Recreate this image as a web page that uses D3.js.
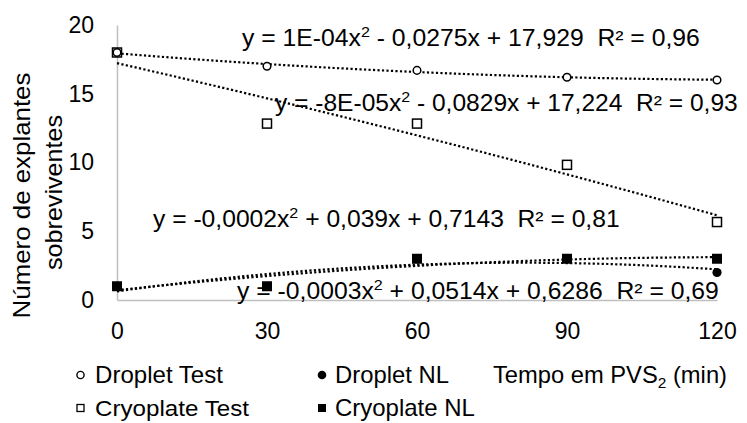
<!DOCTYPE html>
<html>
<head>
<meta charset="utf-8">
<script src="https://cdn.jsdelivr.net/npm/d3@7"></script>
<style>
  html, body { margin: 0; padding: 0; background: #fff; }
  svg { display: block; font-family: "Liberation Sans", Arial, sans-serif; }
  text { white-space: pre; fill: #000; }
</style>
</head>
<body>
<svg id="chart" width="747" height="423"></svg>
<script>
// Tempo em PVS2 (min) on x, surviving explants on y
const times = [0, 30, 60, 90, 120];
const dropletTest = [18, 17, 16.7, 16.2, 16];
const dropletNL = [1, 1, 3, 3, 2];
const cryoplateTest = [18, 12.83, 12.83, 9.83, 5.67];
const cryoplateNL = [1, 1, 3, 3, 3];

const xTicks = [0, 30, 60, 90, 120];
const yTicks = [0, 5, 10, 15, 20];

// Trendline equation labels: [before superscript, superscript, after]
const eqDropletTest = ["y = 1E-04x", "2", " - 0,0275x + 17,929  R² = 0,96"];
const eqCryoplateTest = ["y = -8E-05x", "2", " - 0,0829x + 17,224  R² = 0,93"];
const eqCryoplateNL = ["y = -0,0002x", "2", " + 0,039x + 0,7143  R² = 0,81"];
const eqDropletNL = ["y = -0,0003x", "2", " + 0,0514x + 0,6286  R² = 0,69"];

const legendNames = ["Droplet Test", "Droplet NL", "Cryoplate Test", "Cryoplate NL"];
const yTitleLines = ["Número de explantes", "sobreviventes"];
const xTitle = ["Tempo em PVS", "2", " (min)"];

const svg = d3.select("#chart");
const FS = 23;

const x = d3.scaleLinear().domain([0, 120]).range([117, 717]);
const y = d3.scaleLinear().domain([0, 20]).range([300, 25]);

// least-squares quadratic fit y = a0 + a1 x + a2 x^2
function quadFit(xs, ys) {
  const S = k => d3.sum(xs, v => Math.pow(v, k));
  const T = k => d3.sum(xs, (v, i) => Math.pow(v, k) * ys[i]);
  const A = [[S(0), S(1), S(2), T(0)], [S(1), S(2), S(3), T(1)], [S(2), S(3), S(4), T(2)]];
  for (let c = 0; c < 3; c++) {
    for (let r = c + 1; r < 3; r++) {
      const f = A[r][c] / A[c][c];
      for (let k = c; k < 4; k++) A[r][k] -= f * A[c][k];
    }
  }
  const s = [0, 0, 0];
  for (let r = 2; r >= 0; r--) {
    let v = A[r][3];
    for (let k = r + 1; k < 3; k++) v -= A[r][k] * s[k];
    s[r] = v / A[r][r];
  }
  return s;
}

// axes
const gx = svg.append("g").attr("transform", "translate(0,300)")
  .call(d3.axisBottom(x).tickValues(xTicks).tickSize(0).tickSizeOuter(0).tickPadding(23));
const gy = svg.append("g").attr("transform", "translate(117,0)")
  .call(d3.axisLeft(y).tickValues(yTicks).tickSize(0).tickSizeOuter(0).tickPadding(23));
[gx, gy].forEach(g => {
  g.select(".domain").attr("stroke", "#bfbfbf").attr("stroke-width", 1.5);
  g.selectAll("text").attr("font-size", FS).attr("font-family", "Liberation Sans, Arial, sans-serif").attr("fill", "#000");
});

// trendlines
const seriesList = [
  { vals: dropletTest }, { vals: dropletNL }, { vals: cryoplateTest }, { vals: cryoplateNL }
];
const samples = d3.range(0, 120.01, 1);
const line = d3.line().x(d => x(d[0])).y(d => y(d[1]));
seriesList.forEach(s => {
  const c = quadFit(times, s.vals);
  const pts = samples.map(t => [t, c[0] + c[1] * t + c[2] * t * t]);
  svg.append("path").attr("d", line(pts)).attr("fill", "none")
    .attr("stroke", "#000").attr("stroke-width", 2.2).attr("stroke-dasharray", "2.2,2.3");
});

// markers
const pts = (vals) => times.map((t, i) => [t, vals[i]]);
svg.append("g").selectAll("circle").data(pts(dropletNL)).join("circle")
  .attr("cx", d => x(d[0])).attr("cy", d => y(d[1])).attr("r", 4.6).attr("fill", "#000");
svg.append("g").selectAll("rect").data(pts(cryoplateNL)).join("rect")
  .attr("x", d => x(d[0]) - 5).attr("y", d => y(d[1]) - 5).attr("width", 10).attr("height", 10).attr("fill", "#000");
svg.append("g").selectAll("rect").data(pts(cryoplateTest)).join("rect")
  .attr("x", d => x(d[0]) - 4.5).attr("y", d => y(d[1]) - 4.5).attr("width", 9).attr("height", 9)
  .attr("fill", "#fff").attr("stroke", "#000").attr("stroke-width", 1.5);
svg.append("g").selectAll("circle").data(pts(dropletTest)).join("circle")
  .attr("cx", d => x(d[0])).attr("cy", d => y(d[1])).attr("r", 3.8)
  .attr("fill", "#fff").attr("stroke", "#000").attr("stroke-width", 1.5);

// text placed at a start x / baseline and fitted to a width
function fitted(parts, x0, base, width, supShift) {
  const t = svg.append("text").attr("font-size", FS).attr("x", 0).attr("y", 0);
  t.append("tspan").text(parts[0]);
  if (parts.length > 1) {
    t.append("tspan").attr("font-size", 15).attr("dy", supShift).text(parts[1]);
    t.append("tspan").attr("dy", -supShift).text(parts[2]);
  }
  const w = t.node().getComputedTextLength();
  t.attr("transform", `translate(${x0},${base}) scale(${width / w},1)`);
  return t;
}

fitted(eqDropletTest, 242, 46, 458, -9);
fitted(eqCryoplateTest, 275, 111, 463, -9);
fitted(eqCryoplateNL, 153, 227, 467, -9);
fitted(eqDropletNL, 237, 299, 482, -9);

// y-axis title, two rotated lines
[[yTitleLines[0], 30, 195.5, 246], [yTitleLines[1], 62, 192.5, 155]].forEach(([txt, bx, cy, len]) => {
  const t = svg.append("text").attr("font-size", FS).attr("text-anchor", "middle").text(txt);
  const w = t.node().getComputedTextLength();
  t.attr("transform", `translate(${bx},${cy}) rotate(-90) scale(${len / w},1)`);
});

// legend
const lg = svg.append("g");
lg.append("circle").attr("cx", 80.5).attr("cy", 375).attr("r", 3.6)
  .attr("fill", "#fff").attr("stroke", "#000").attr("stroke-width", 1.4);
lg.append("circle").attr("cx", 322).attr("cy", 375).attr("r", 4.3).attr("fill", "#000");
lg.append("rect").attr("x", 77).attr("y", 404.5).attr("width", 7).attr("height", 7)
  .attr("fill", "#fff").attr("stroke", "#000").attr("stroke-width", 1.3);
lg.append("rect").attr("x", 318).attr("y", 404).attr("width", 8).attr("height", 8).attr("fill", "#000");

fitted([legendNames[0]], 95, 383, 128);
fitted([legendNames[1]], 335, 383, 114);
fitted([legendNames[2]], 95, 416, 154);
fitted([legendNames[3]], 335, 416, 140);
fitted(xTitle, 493, 383, 234, 5);
</script>
</body>
</html>
